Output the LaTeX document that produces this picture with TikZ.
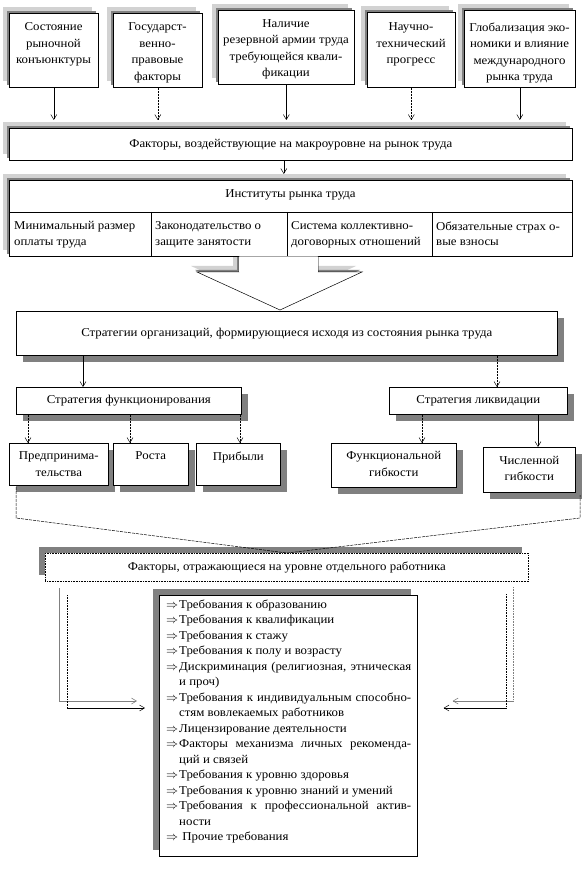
\documentclass[tikz,border=0pt]{standalone}
\usepackage{fontspec}
\setmainfont{Liberation Serif}[FakeStretch=1.07]
\usetikzlibrary{arrows.meta,shadows}
\newcommand\fs{\fontsize{12}{16.5}\selectfont}
\newcommand\fls{\fontsize{12}{15.5}\selectfont}
\newcommand\itm{\makebox[13pt][l]{$\Rightarrow$}}
\newcommand\ind{\hspace*{13pt}}
\tikzset{
  box/.style={draw, fill=white, inner sep=0pt, line width=0.6pt, anchor=north west},
  shUL/.style={drop shadow={shadow xshift=-6pt, shadow yshift=6pt, fill=gray!35, opacity=1},
               drop shadow={shadow xshift=-2pt, shadow yshift=2pt, fill=gray, opacity=1}},
  shULd/.style={drop shadow={shadow xshift=-6pt, shadow yshift=6pt, fill=gray, opacity=1}},
  shDR/.style={drop shadow={shadow xshift=7pt, shadow yshift=-7pt, fill=gray, opacity=1}},
  lbl/.style={font=\fs, align=center, inner sep=0pt, anchor=north},
  lbll/.style={font=\fs, align=left, inner sep=0pt, anchor=north west},
  arr/.style={-{Straight Barb[length=5pt,width=6pt]}, line width=0.5pt},
  darr/.style={arr, densely dotted},
  vline/.style={line width=0.5pt, dash pattern=on 3pt off 1pt},
}
\begin{document}
\begin{tikzpicture}[x=1pt,y=-1pt]
\useasboundingbox (0,0) rectangle (585,874);
% top row
\node[box, shUL, minimum width=89, minimum height=74] (b1) at (9,13) {};
\node[lbl] (t1) at (53.5,22.5) {Состояние\\рыночной\\конъюнктуры};
\node[box, shUL, minimum width=89, minimum height=74] (b2) at (113,13) {};
\node[lbl] (t2) at (157.5,22.5) {Государст-\\венно-\\правовые\\факторы};
\node[box, shUL, minimum width=136, minimum height=74] (b3) at (218,10) {};
\node[lbl] (t3) at (286,19) {Наличие\\резервной армии труда\\требующейся квали-\\фикации};
\node[box, shUL, minimum width=88, minimum height=75] (b4) at (367,12) {};
\node[lbl] (t4) at (411,22.5) {Научно-\\технический\\прогресс};
\node[box, shUL, minimum width=111, minimum height=77] (b5) at (464,10) {};
\node[lbl] (t5) at (519.5,22.5) {Глобализация эко-\\номики и влияние\\международного\\рынка труда};
% macro bar
\node[box, shUL, minimum width=563, minimum height=32] (f1) at (9,128) {};
\node[font=\fs, inner sep=0pt] (tf1) at (f1.center) {Факторы, воздействующие на макроуровне на рынок труда};
\draw[arr] (b1.south) -- (b1.south |- f1.north) [shorten >=8pt];
\draw[darr] (b2.south) -- (b2.south |- f1.north) [shorten >=8pt];
\draw[arr] (b3.south) -- (b3.south |- f1.north) [shorten >=8pt];
\draw[darr] (b4.south) -- (b4.south |- f1.north) [shorten >=8pt];
\draw[arr] (b5.south) -- (b5.south |- f1.north) [shorten >=8pt];
% block arrow shadow and institutions
\fill[gray!35] (233,250) -- (233,266) -- (191,266) -- (274,304) -- (356,266) -- (312,266) -- (312,250) -- cycle;
\fill[gray] (237,252) -- (237,270) -- (195,270) -- (278,308) -- (360,270) -- (316,270) -- (316,252) -- cycle;
\node[box, shUL, minimum width=563, minimum height=76] (inst) at (9,180) {};
\draw[arr] ([xshift=-7pt]f1.south) -- ([xshift=-7pt]f1.south |- inst.north) [shorten >=6pt];
\node[font=\fs, inner sep=0pt] (ti) at (290.5,195) {Институты рынка труда};
\draw[line width=0.6pt] (9,212) -- (572,212);
\draw[line width=0.6pt] (151,212) -- (151,256);
\draw[line width=0.6pt] (287,212) -- (287,256);
\draw[line width=0.6pt] (432,212) -- (432,256);
\node[lbll, font=\fls] (c1) at (14,221.5) {Минимальный размер\\оплаты труда};
\node[lbll, font=\fls] (c2) at (155,221.5) {Законодательство о\\защите занятости};
\node[lbll, font=\fls] (c3) at (291,221.5) {Система коллективно-\\договорных  отношений};
\node[lbll, font=\fls] (c4) at (436,221.5) {Обязательные страх о-\\вые взносы};
% block arrow
\filldraw[fill=white, line width=0.5pt] (239,256.3) -- (239,272) -- (197,272) -- (280,310) -- (362,272) -- (318,272) -- (318,256.3);
\fill[white] (239.3,256.6) rectangle (317.7,272.5);
% strategies
\node[box, shDR, minimum width=541, minimum height=44] (s0) at (16,311) {};
\node[font=\fs, inner sep=0pt] (ts0) at (s0.center) {Стратегии организаций, формирующиеся исходя из состояния рынка труда};
\node[box, shDR, minimum width=225, minimum height=27] (sf) at (16,387) {};
\node[font=\fs, inner sep=0pt] (tsf) at (sf.center) {Стратегия функционирования};
\node[box, shDR, minimum width=178, minimum height=27] (sl) at (389,387) {};
\node[font=\fs, inner sep=0pt] (tsl) at (sl.center) {Стратегия ликвидации};
\draw[arr] (83,0 |- s0.south) -- (83,0 |- sf.north);
\draw[darr] (497,0 |- s0.south) -- (497,0 |- sl.north);
\node[box, shDR, minimum width=99, minimum height=42] (p1) at (9,443) {};
\node[lbl] (tp1) at (p1.center |- 0,451.5) {Предпринима-\\тельства};
\node[box, shDR, minimum width=75, minimum height=42] (p2) at (113,443) {};
\node[lbl] (tp2) at (p2.center |- 0,451.5) {Роста};
\node[box, shDR, minimum width=84, minimum height=42] (p3) at (196,443) {};
\node[lbl] (tp3) at (p3.center |- 0,451.5) {Прибыли};
\draw[darr] (28,0 |- sf.south) -- (28,0 |- p1.north);
\draw[darr] (130,0 |- sf.south) -- (130,0 |- p2.north);
\draw[darr] (240,0 |- sf.south) -- (240,0 |- p3.north);
\node[box, shDR, minimum width=125, minimum height=44] (l1) at (331,443) {};
\node[lbl] (tl1) at (l1.center |- 0,451.5) {Функциональной\\гибкости};
\node[box, shDR, minimum width=92, minimum height=45] (l2) at (483,447) {};
\node[lbl] (tl2) at (l2.center |- 0,456) {Численной\\гибкости};
\draw[darr] (422,0 |- sl.south) -- (422,0 |- l1.north);
\draw[arr] (538,0 |- sl.south) -- (538,0 |- l2.north);
% V bracket
\node[box, shULd, densely dotted, minimum width=483, minimum height=28] (f2) at (45,553) {};
\node[font=\fs, inner sep=0pt] (tf2) at (f2.center) {Факторы, отражающиеся на уровне отдельного работника};
\coordinate (vl) at (16,487);
\coordinate (vr) at (580,495);
\draw[vline] (vl) -- (16,518) -- (287,553) -- (580,518) -- (vr);
% list box
\node[box, shULd, minimum width=258, minimum height=261] (lst) at (159,595) {};
\node[font=\fls, align=left, inner sep=0pt, anchor=north west] (tl) at (166,599.5) {%
\itm Требования к образованию\\
\itm Требования к квалификации\\
\itm Требования к стажу\\
\itm Требования к полу и возрасту\\
\itm \makebox[232pt][s]{Дискриминация (религиозная, этническая}\\
\ind и проч)\\
\itm \makebox[232pt][s]{Требования к индивидуальным способно-}\\
\ind стям вовлекаемых работников\\
\itm Лицензирование деятельности\\
\itm \makebox[232pt][s]{Факторы механизма личных рекоменда-}\\
\ind ций и связей\\
\itm Требования к уровню здоровья\\
\itm Требования к уровню знаний и умений\\
\itm \makebox[232pt][s]{Требования к профессиональной актив-}\\
\ind ности\\
\itm \ Прочие требования};
% side arrows
\coordinate (la0) at (59,588);
\coordinate (la1) at (59,701);
\coordinate (lb0) at (67,595);
\coordinate (lb1) at (67,708);
\draw[gray, line width=0.6pt, -{Straight Barb[length=5pt,width=6pt]}] (la0) -- (la1) -- ([xshift=-22pt]lst.west |- la1);
\draw[densely dotted, line width=0.6pt] (lb0) -- (lb1);
\draw[arr] (lb1) -- ([xshift=-14pt]lst.west |- lb1);
\coordinate (ra0) at (513,587);
\coordinate (ra1) at (513,701);
\coordinate (rb0) at (506,594);
\coordinate (rb1) at (506,708);
\draw[gray, line width=0.6pt, densely dotted] (ra0) -- (ra1);
\draw[gray, line width=0.6pt, -{Straight Barb[length=5pt,width=6pt]}] (ra1) -- ([xshift=35pt]lst.east |- ra1);
\draw[densely dotted, line width=0.6pt] (rb0) -- (rb1);
\draw[arr] (rb1) -- ([xshift=26pt]lst.east |- rb1);
\end{tikzpicture}
\end{document}
